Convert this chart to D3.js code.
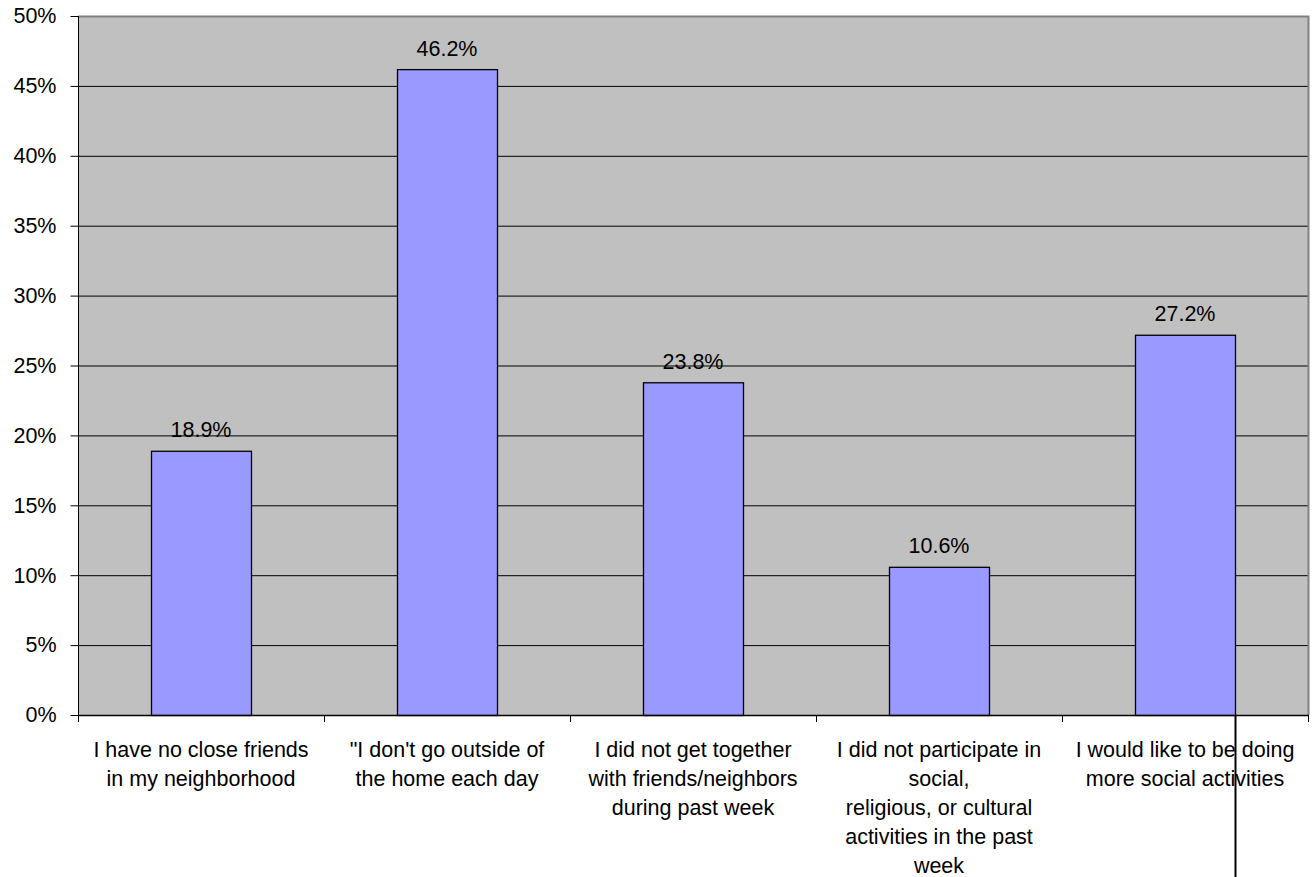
<!DOCTYPE html>
<html><head><meta charset="utf-8">
<script src="https://cdn.jsdelivr.net/npm/d3@7"></script>
<style>body{margin:0;background:#fff;}svg{display:block;font-family:"Liberation Sans",Arial,sans-serif;}</style>
</head><body><svg id="c" width="1314" height="877"></svg>
<script>
const categories = [
  ["I have no close friends","in my neighborhood"],
  ["\"I don't go outside of","the home each day"],
  ["I did not get together","with friends/neighbors","during past week"],
  ["I did not participate in","social,","religious, or cultural","activities in the past","week"],
  ["I would like to be doing","more social activities"]
];
const values = [18.9, 46.2, 23.8, 10.6, 27.2];
const yTicks = [0,5,10,15,20,25,30,35,40,45,50];

const svg = d3.select("#c");
const L=78, R=1308, T=16, B=715;
const x = d3.scaleBand().domain(d3.range(values.length)).range([L,R]).paddingInner(0).paddingOuter(0);
const y = d3.scaleLinear().domain([0,50]).range([B,T]);
const fs = 21.5;

svg.append("rect").attr("x",L).attr("y",T).attr("width",R-L).attr("height",B-T).attr("fill","#c0c0c0");
// gridlines
svg.append("g").selectAll("line").data(yTicks.filter(d=>d>0 && d<50)).join("line")
  .attr("x1",L).attr("x2",R).attr("y1",d=>y(d)+0.5).attr("y2",d=>y(d)+0.5).attr("stroke","#000").attr("stroke-width",1);
// plot border top/right gray
svg.append("path").attr("d",`M${L},${T+0.5}H${R+0.5}V${B}`).attr("fill","none").attr("stroke","#808080").attr("stroke-width",2);

// bars
const bw = x.bandwidth()*0.4065;
svg.append("g").selectAll("rect").data(values).join("rect")
  .attr("x",(d,i)=>x(i)+x.bandwidth()/2-bw/2+0.5).attr("y",d=>y(d)+0.5)
  .attr("width",bw).attr("height",d=>B-y(d))
  .attr("fill","#9999ff").attr("stroke","#000").attr("stroke-width",1.3);

// value labels
svg.append("g").selectAll("text").data(values).join("text")
  .attr("x",(d,i)=>x(i)+x.bandwidth()/2).attr("y",d=>y(d)-13.5)
  .attr("text-anchor","middle").attr("font-size",fs).attr("fill","#000")
  .text(d=>d.toFixed(1)+"%");

// y axis
const ya = d3.axisLeft(y).tickValues(yTicks).tickSize(8).tickPadding(14).tickFormat(d=>d+"%");
const gy = svg.append("g").attr("transform",`translate(${L+0.5},0)`).call(ya);
gy.select(".domain").attr("d",`M0,${T}V${B}`).attr("stroke","#000");
gy.selectAll(".tick line").attr("stroke","#000");
gy.selectAll(".tick text").attr("font-size",fs).attr("font-family","Liberation Sans, Arial, sans-serif").attr("fill","#000");

// x axis line and ticks
svg.append("line").attr("x1",L).attr("x2",R+1).attr("y1",B+0.5).attr("y2",B+0.5).attr("stroke","#000").attr("stroke-width",1.3);
const bounds = d3.range(values.length+1).map(i=> i<values.length ? x(i) : R);
svg.append("g").selectAll("line").data(bounds).join("line")
  .attr("x1",d=>d+0.5).attr("x2",d=>d+0.5).attr("y1",B).attr("y2",B+7).attr("stroke","#000");

// category labels
const cg = svg.append("g").selectAll("text").data(categories).join("text")
  .attr("text-anchor","middle").attr("font-size",fs).attr("fill","#000")
  .attr("x",(d,i)=>x(i)+x.bandwidth()/2).attr("y",757);
cg.selectAll("tspan").data(d=>d).join("tspan")
  .attr("x",function(){return this.parentNode.getAttribute("x");})
  .attr("dy",(d,i)=>i===0?0:29).text(d=>d);

// stray vertical line from last bar's right edge
const last = values.length-1;
const lx = x(last)+x.bandwidth()/2+bw/2+0.5;
svg.append("line").attr("x1",lx).attr("x2",lx).attr("y1",B).attr("y2",877).attr("stroke","#000").attr("stroke-width",2);
</script></body></html>
